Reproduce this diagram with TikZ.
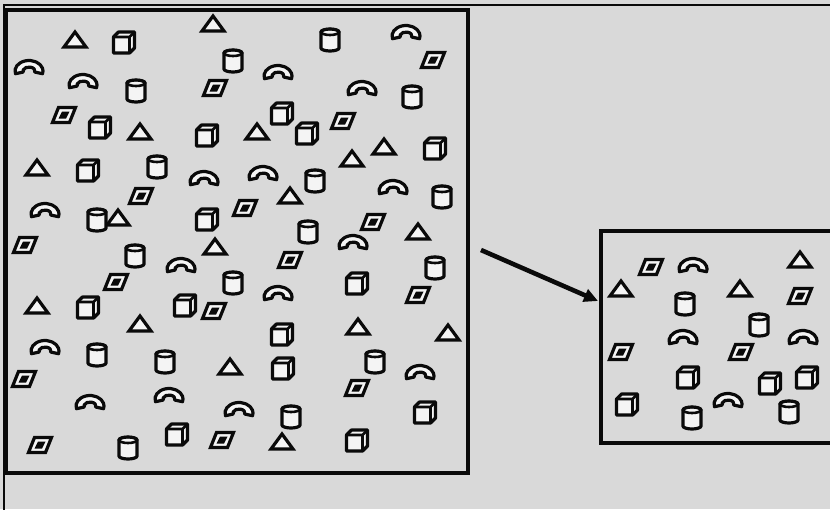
\documentclass[tikz,border=0pt]{standalone}
\usetikzlibrary{arrows.meta}
\definecolor{paper}{gray}{0.85}
\definecolor{ink}{gray}{0.04}
\tikzset{
  outline/.style={draw=ink, line width=3.2pt, fill=white!70!paper},
  panel/.style={draw=ink, line width=3.2pt, inner sep=0pt},
  arrow/.style={-{Triangle[length=14pt,width=13pt]}, line width=4.6pt, draw=ink},
  tri/.pic={\draw[outline] (-11,7) -- (11,7) -- (0,-8) -- cycle;},
  cube/.pic={\draw[outline, line join=round] (-10.5,-5) -- (-5.5,-10) -- (10.5,-10) -- (10.5,6) -- (5.5,11) -- (-10.5,11) -- cycle;
    \draw[ink, line width=2.8pt, line join=round] (-10.5,-5) -- (5.5,-5) -- (5.5,11) (5.5,-5) -- (10.5,-10);},
  cyl/.pic={\draw[outline] (-9,-8) -- (-9,8) arc[start angle=180, end angle=0, x radius=9, y radius=3] -- (9,-8) arc[start angle=0, end angle=-180, x radius=9, y radius=3] -- cycle;
    \draw[ink, line width=2.6pt] (0,-8) ellipse[x radius=9, y radius=3];},
  hump/.pic={\draw[outline, line join=round] ([shift={(0,4)}]165:14 and 10.5) arc[start angle=165, end angle=375, x radius=14, y radius=10.5]
    -- ([shift={(0,4)}]15:6 and 4) arc[start angle=15, end angle=-195, x radius=6, y radius=4] -- cycle;},
  rhomb/.pic={\draw[outline] (-5.5,-7.5) -- (11.5,-7.5) -- (5.5,7.5) -- (-11.5,7.5) -- cycle;
    \fill[ink] (-2,-3.5) -- (5.5,-3.5) -- (2,3.5) -- (-5.5,3.5) -- cycle;}
}
\begin{document}
\begin{tikzpicture}[x=1pt,y=-1pt]
  \useasboundingbox (0,0) rectangle (830,509);
  \fill[paper] (0,0) rectangle (830,509);
  \draw[ink, line width=1.8pt] (834,5) -- (4,5) -- (4,512);
  \node[panel, minimum width=462pt, minimum height=463pt] (full) at (237,241.5) {};
  \node[panel, minimum width=232pt, minimum height=212pt] (part) at (717,337) {};
  \foreach \x/\y in {75/40, 213/24, 140/132, 257/132, 384/147, 352/159, 37/168, 290/196, 118/218, 215/247, 418/232, 37/306, 140/324, 358/327, 448/333, 230/367, 282/442, 800/260, 621/289, 740/289}
    \pic at (\x,\y) {tri};
  \foreach \x/\y in {124/42, 100/127, 207/135, 282/113, 307/133, 435/148, 88/170, 207/219, 357/283, 88/307, 185/305, 282/334, 283/368, 425/412, 177/434, 357/440, 688/377, 770/383, 807/377, 627/404}
    \pic at (\x,\y) {cube};
  \foreach \x/\y in {330/40, 233/61, 136/91, 412/97, 157/167, 315/181, 442/197, 97/220, 135/256, 308/232, 435/268, 233/283, 97/355, 165/362, 375/362, 291/417, 128/448, 685/304, 759/325, 692/418, 789/412}
    \pic at (\x,\y) {cyl};
  \foreach \x/\y in {406/32, 29/67, 83/81, 278/72, 362/88, 204/178, 263/173, 393/187, 45/210, 353/242, 181/265, 278/293, 45/347, 420/372, 90/402, 169/395, 239/409, 693/265, 683/337, 803/337, 728/400}
    \pic at (\x,\y) {hump};
  \foreach \x/\y in {433/60, 215/88, 64/115, 343/121, 141/196, 245/208, 25/245, 373/222, 290/260, 116/282, 418/295, 214/311, 24/379, 357/388, 40/445, 222/440, 651/267, 800/296, 621/352, 741/352}
    \pic at (\x,\y) {rhomb};
  \coordinate (tail) at (481,250);
  \coordinate (head) at (598,301);
  \draw[arrow] (tail) -- (head);
\end{tikzpicture}
\end{document}
